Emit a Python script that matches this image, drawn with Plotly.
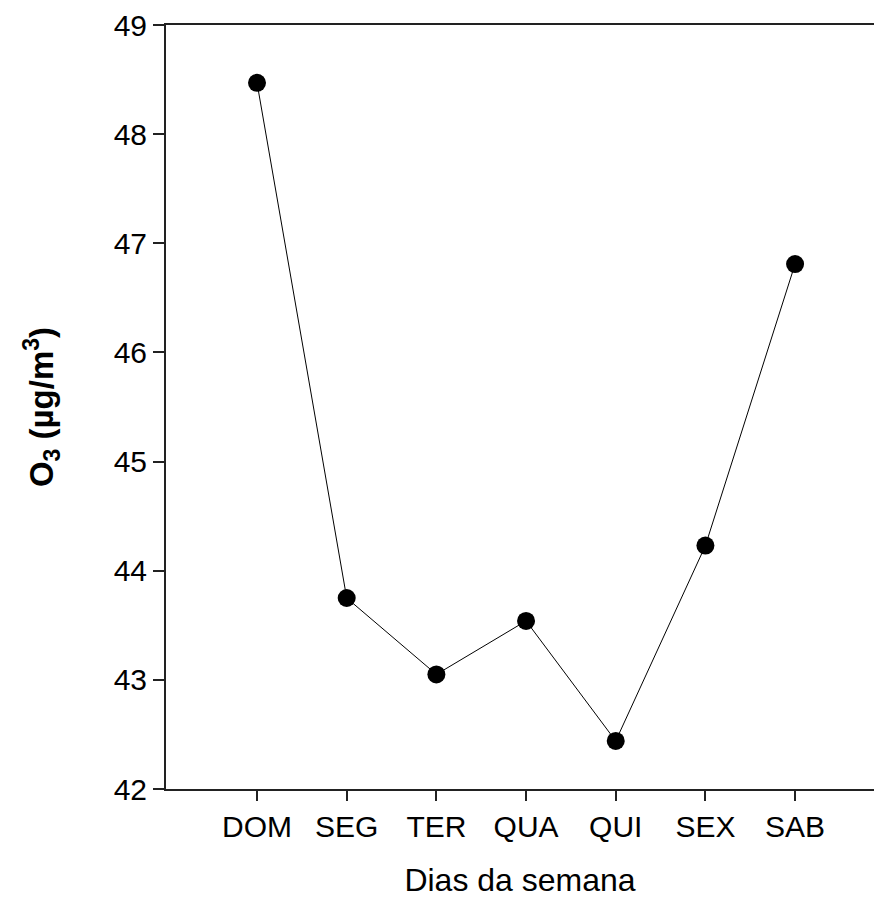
import plotly.graph_objects as go

# Weekly ozone profile
dias = ["DOM", "SEG", "TER", "QUA", "QUI", "SEX", "SAB"]
o3 = [48.47, 43.75, 43.05, 43.54, 42.44, 44.23, 46.81]
y_ticks = [42, 43, 44, 45, 46, 47, 48, 49]

idx = list(range(len(dias)))

fig = go.Figure(
    go.Scatter(
        x=idx,
        y=o3,
        mode="lines+markers",
        line=dict(color="black", width=1),
        marker=dict(color="black", size=18),
        showlegend=False,
    )
)

font = "Liberation Sans, Arial, sans-serif"

fig.update_layout(
    width=874,
    height=923,
    margin=dict(l=166, r=0, t=25, b=134),
    plot_bgcolor="white",
    paper_bgcolor="white",
    font=dict(family=font, color="black"),
    xaxis=dict(
        range=[-1.015, 6.88],
        tickmode="array",
        tickvals=idx,
        ticktext=dias,
        ticks="outside",
        ticklen=10,
        tickwidth=2,
        tickcolor="#222",
        showline=True,
        linecolor="#222",
        linewidth=2,
        mirror=True,
        showgrid=False,
        zeroline=False,
        tickfont=dict(size=30),
        title=dict(text="Dias da semana", font=dict(size=32), standoff=27),
    ),
    yaxis=dict(
        range=[42, 49],
        tickmode="array",
        tickvals=y_ticks,
        ticks="outside",
        ticklen=11,
        tickwidth=2,
        tickcolor="#222",
        showline=True,
        linecolor="#222",
        linewidth=2,
        showgrid=False,
        zeroline=False,
        tickfont=dict(size=30),
        title=dict(text="<b>O<sub>3</sub> (µg/m<sup>3</sup>)</b>", font=dict(size=33), standoff=50),
    ),
)

fig.write_html("out.html")
